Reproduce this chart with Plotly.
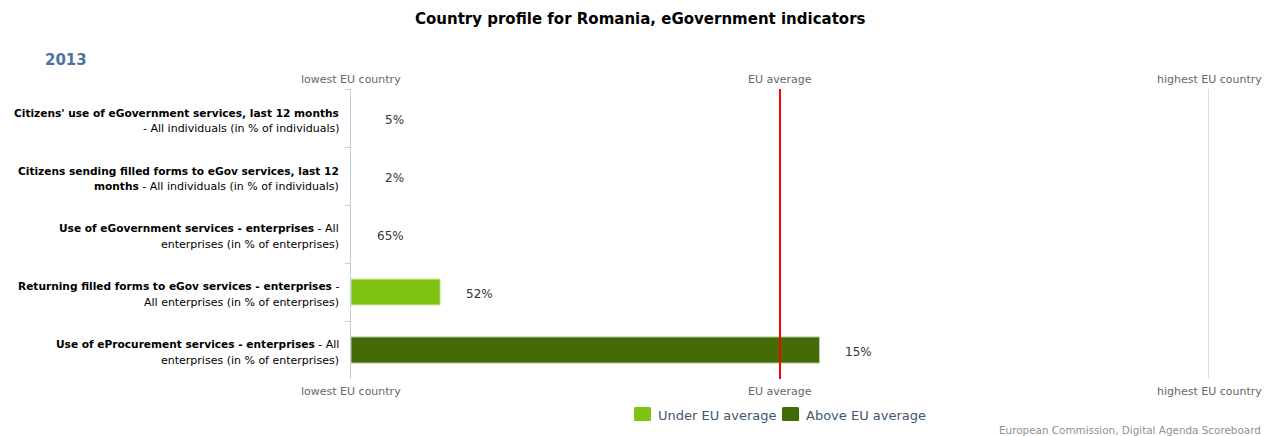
import plotly.graph_objects as go

# Indicator names: bold headline and the normal-weight remainder, split per line
BOLD = '<span style="font-size:10.6px"><b>{}</b></span>'
label_lines = [
    (BOLD.format("Citizens' use of eGovernment services, last 12 months"),
     "- All individuals (in % of individuals)"),
    (BOLD.format("Citizens sending filled forms to eGov services, last 12"),
     BOLD.format("months") + " - All individuals (in % of individuals)"),
    (BOLD.format("Use of eGovernment services - enterprises") + " - All",
     "enterprises (in % of enterprises)"),
    (BOLD.format("Returning filled forms to eGov services - enterprises") + " -",
     "All enterprises (in % of enterprises)"),
    (BOLD.format("Use of eProcurement services - enterprises") + " - All",
     "enterprises (in % of enterprises)"),
]
category_ids = ["c1", "c2", "c3", "c4", "c5"]

# Position on the scale: 0 = lowest EU country, 0.5 = EU average, 1 = highest EU country
scaled_position = [0.0, 0.0, 0.0, 0.104, 0.546]
value_labels = ["5%", "2%", "65%", "52%", "15%"]
above_average = [False, False, False, False, True]

series_names = ["Under EU average", "Above EU average"]
year_label = "2013"
title_text = "Country profile for Romania, eGovernment indicators"
credit_text = "European Commission, Digital Agenda Scoreboard"

LIGHT = "#7fc413"
DARK = "#446c06"
FONT = "DejaVu Sans"

W, H = 1264, 436
L, R, T, B = 351, 1209, 89, 379


def px_x(x):
    return (x - L) / (R - L)


def px_y(y):
    return (B - y) / (B - T)


fig = go.Figure()

under_x = [v if not a else 0 for v, a in zip(scaled_position, above_average)]
over_x = [v if a else 0 for v, a in zip(scaled_position, above_average)]

for name, xs, col, edge in ((series_names[0], under_x, LIGHT, "#d8ecb8"),
                            (series_names[1], over_x, DARK, "#b8c8a0")):
    fig.add_trace(go.Bar(
        y=category_ids, x=xs, orientation="h", name=name,
        marker=dict(color=col,
                    line=dict(color=edge, width=[1 if v > 0 else 0 for v in xs])),
        width=0.45, hoverinfo="skip", showlegend=False,
    ))

annotations = []

# value labels, right-aligned a fixed distance past the bar end
for cid, v, t in zip(category_ids, scaled_position, value_labels):
    annotations.append(dict(
        x=v, y=cid, xref="x", yref="y", text=t, showarrow=False,
        xanchor="right", yanchor="middle", xshift=55, yshift=-1.5,
        font=dict(family=FONT, size=12, color="#333333"),
    ))

# category labels, two right-aligned lines each
row_h = (B - T) / len(category_ids)
for i, (l1, l2) in enumerate(label_lines):
    yc = T + row_h * (i + 0.5)
    for txt, dy in ((l1, -5.5), (l2, 10.0)):
        annotations.append(dict(
            x=px_x(341), y=px_y(yc + dy), xref="paper", yref="paper",
            text=txt, showarrow=False, xanchor="right", yanchor="middle",
            font=dict(family=FONT, size=11, color="#000000"),
        ))

# scale markers above and below the plot
for xp, txt in ((0, "lowest EU country"), (0.5, "EU average"), (1, "highest EU country")):
    for yy in (79.5, 391):
        annotations.append(dict(
            x=xp, y=px_y(yy), xref="paper", yref="paper", text=txt,
            showarrow=False, xanchor="center", yanchor="middle",
            font=dict(family=FONT, size=11, color="#666666"),
        ))

annotations.append(dict(
    x=px_x(640), y=px_y(19), xref="paper", yref="paper", text="<b>" + title_text + "</b>",
    showarrow=False, xanchor="center", yanchor="middle",
    font=dict(family=FONT, size=15, color="#000000"),
))
annotations.append(dict(
    x=px_x(43), y=px_y(60), xref="paper", yref="paper", text="<b>" + year_label + "</b>",
    showarrow=False, xanchor="left", yanchor="middle",
    font=dict(family=FONT, size=15, color="#4a72a6"),
))
annotations.append(dict(
    x=px_x(1263), y=px_y(430), xref="paper", yref="paper", text=credit_text,
    showarrow=False, xanchor="right", yanchor="middle",
    font=dict(family=FONT, size=10.4, color="#909090"),
))

shapes = [
    dict(type="line", xref="x", yref="paper", x0=1, x1=1, y0=0, y1=1,
         line=dict(color="#bbbbbb", width=1)),
    dict(type="line", xref="x", yref="paper", x0=0.5, x1=0.5, y0=0, y1=1,
         line=dict(color="#ff0000", width=2), layer="above"),
]

# legend: rounded colour swatch followed by the series name
def rounded_rect(x0, y0, x1, y1, r):
    return (f"M{x0+r},{y0} L{x1-r},{y0} Q{x1},{y0} {x1},{y0+r} "
            f"L{x1},{y1-r} Q{x1},{y1} {x1-r},{y1} L{x0+r},{y1} "
            f"Q{x0},{y1} {x0},{y1-r} L{x0},{y0+r} Q{x0},{y0} {x0+r},{y0} Z")


legend_y = 414
for sx, name, col in ((634, series_names[0], LIGHT), (782, series_names[1], DARK)):
    shapes.append(dict(
        type="path", xref="paper", yref="paper",
        path=rounded_rect(px_x(sx), px_y(legend_y + 7), px_x(sx + 17), px_y(legend_y - 7), 0.003),
        fillcolor=col, line=dict(width=0), layer="above",
    ))
    annotations.append(dict(
        x=px_x(sx + 22), y=px_y(legend_y + 1), xref="paper", yref="paper", text=name,
        showarrow=False, xanchor="left", yanchor="middle",
        font=dict(family=FONT, size=13, color="#3e576f"),
    ))

fig.update_layout(
    width=W, height=H,
    margin=dict(l=L, r=W - R, t=T, b=H - B, pad=0),
    paper_bgcolor="white", plot_bgcolor="white",
    barmode="overlay",
    showlegend=False,
    xaxis=dict(range=[0, 1], showgrid=False, zeroline=False, showticklabels=False,
               showline=False, fixedrange=True),
    yaxis=dict(categoryorder="array", categoryarray=category_ids, autorange="reversed",
               showticklabels=False, showgrid=False, zeroline=False,
               showline=True, linecolor="#c0d0e0", linewidth=1,
               ticks="outside", tickson="boundaries", ticklen=5, tickcolor="#c0d0e0",
               fixedrange=True),
    annotations=annotations,
    shapes=shapes,
    font=dict(family=FONT),
)

fig.write_html("out.html")
